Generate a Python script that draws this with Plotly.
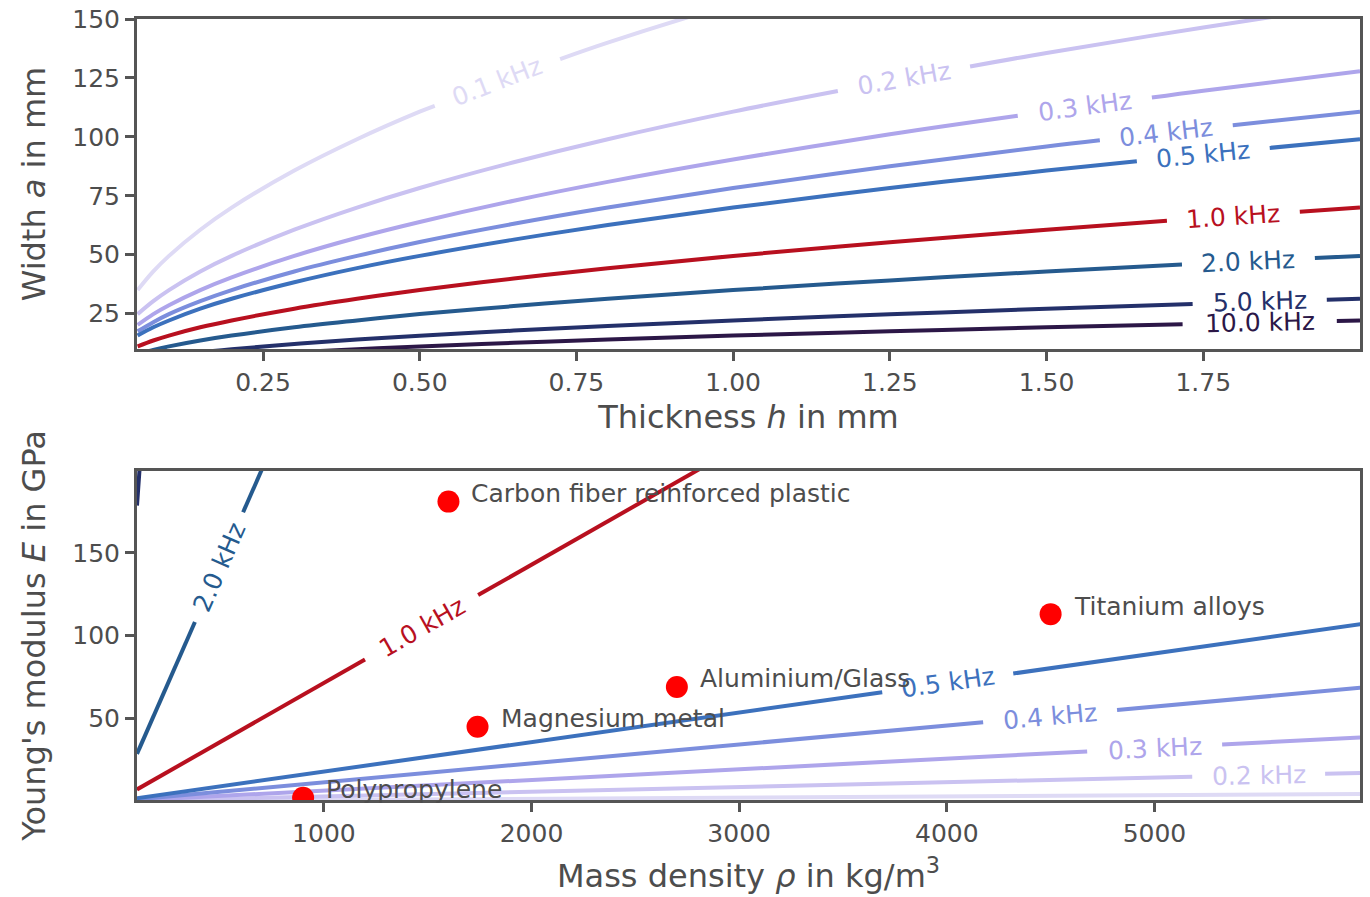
import numpy as np
import plotly.graph_objects as go

# ---- top panel: contour lines a(h) for each frequency
freqs_top = [0.1, 0.2, 0.3, 0.4, 0.5, 1.0, 2.0, 5.0, 10.0]
h_mm = [0.05, 0.075, 0.1, 0.15, 0.2, 0.3, 0.4, 0.5, 0.65, 0.8, 1.0, 1.25, 1.5, 1.75, 2.0]
a_01 = [35.0, 42.9, 49.5, 60.6, 70.0, 85.7, 99.0, 110.7, 126.2, 140.0, 156.5, 175.0, 191.7, 207.0, 221.3]
a_02 = [24.8, 30.3, 35.0, 42.9, 49.5, 60.6, 70.0, 78.3, 89.2, 99.0, 110.7, 123.8, 135.6, 146.4, 156.6]
a_03 = [20.2, 24.8, 28.6, 35.0, 40.4, 49.5, 57.2, 63.9, 72.9, 80.9, 90.4, 101.1, 110.7, 119.6, 127.8]
a_04 = [17.5, 21.4, 24.8, 30.3, 35.0, 42.9, 49.5, 55.4, 63.1, 70.0, 78.3, 87.5, 95.9, 103.6, 110.7]
a_05 = [15.7, 19.2, 22.1, 27.1, 31.3, 38.3, 44.3, 49.5, 56.4, 62.6, 70.0, 78.3, 85.7, 92.6, 99.0]
a_10 = [11.1, 13.6, 15.7, 19.2, 22.1, 27.1, 31.3, 35.0, 39.9, 44.3, 49.5, 55.3, 60.6, 65.5, 70.0]
a_20 = [7.8, 9.6, 11.1, 13.6, 15.7, 19.2, 22.1, 24.8, 28.2, 31.3, 35.0, 39.1, 42.9, 46.3, 49.5]
a_50 = [4.9, 6.1, 7.0, 8.6, 9.9, 12.1, 14.0, 15.6, 17.8, 19.8, 22.1, 24.7, 27.1, 29.2, 31.3]
a_100 = [3.5, 4.3, 4.9, 6.1, 7.0, 8.6, 9.9, 11.1, 12.6, 14.0, 15.7, 17.5, 19.2, 20.7, 22.1]
a_lines = [a_01, a_02, a_03, a_04, a_05, a_10, a_20, a_50, a_100]

# ---- bottom panel: contour lines E(rho) for each frequency
freqs_bot = [0.1, 0.2, 0.3, 0.4, 0.5, 1.0, 2.0, 5.0]
rho = [100, 1000, 2000, 3000, 4000, 5000, 6000]
E_01 = [0.07, 0.7, 1.4, 2.1, 2.9, 3.6, 4.3]
E_02 = [0.3, 2.9, 5.7, 8.6, 11.4, 14.3, 17.1]
E_03 = [0.6, 6.4, 12.9, 19.3, 25.7, 32.1, 38.6]
E_04 = [1.1, 11.4, 22.9, 34.3, 45.7, 57.1, 68.6]
E_05 = [1.8, 17.9, 35.7, 53.6, 71.4, 89.3, 107.1]
E_10 = [7.1, 71.4, 142.9, 214.3, 285.7, 357.1, 428.6]
E_20 = [28.6, 285.7, 571.4, 857.1, 1142.9, 1428.6, 1714.3]
E_50 = [178.6, 1786, 3571, 5357, 7143, 8929, 10714]
E_lines = [E_01, E_02, E_03, E_04, E_05, E_10, E_20, E_50]

# ---- materials
materials = ["Carbon fiber reinforced plastic", "Titanium alloys", "Aluminium/Glass",
             "Magnesium metal", "Polypropylene"]
mat_rho = [1600, 4500, 2700, 1740, 900]
mat_E = [181, 113, 69, 45, 2]

colors = {0.1: "#dedaf5", 0.2: "#cac2f1", 0.3: "#aea5eb", 0.4: "#7c8edd", 0.5: "#3c71bd",
          1.0: "#b8101f", 2.0: "#255a8e", 5.0: "#24306a", 10.0: "#2c1747"}

# label gaps (x extent in data units)
gap_top = {0.1: (0.524, 0.724), 0.2: (1.167, 1.378), 0.3: (1.454, 1.668), 0.4: (1.585, 1.797),
           0.5: (1.644, 1.856), 1.0: (1.692, 1.904), 2.0: (1.716, 1.928), 5.0: (1.733, 1.947),
           10.0: (1.717, 1.963)}
gap_bot = {2.0: (379, 611), 1.0: (1198, 1743), 0.5: (3689, 4320), 0.4: (4175, 4820),
           0.3: (4676, 5326), 0.2: (5182, 5822)}

xr_top, yr_top = [0.049, 2.0], [10, 150]
xr_bot, yr_bot = [100, 5990], [0.7, 199.5]
W, H = 1370, 897
ml, mr, mt, mb = 137, 10, 19, 97
pw = W - ml - mr
ph_top, ph_bot = 330, 329

TXT = "#4d4d4d"
FONT = "DejaVu Sans"


def split_line(xs, ys, gap):
    xs = np.array(xs, float)
    ys = np.array(ys, float)
    if gap is None:
        return list(xs), list(ys)
    g0, g1 = gap
    y0 = np.interp(g0, xs, ys)
    y1 = np.interp(g1, xs, ys)
    m0 = xs < g0
    m1 = xs > g1
    X = list(xs[m0]) + [g0, None, g1] + list(xs[m1])
    Y = list(ys[m0]) + [y0, None, y1] + list(ys[m1])
    return X, Y


def label_angle(xs, ys, xc, xr, yr, pw, ph):
    d = (xr[1] - xr[0]) * 0.01
    ya = np.interp(xc - d, xs, ys)
    yb = np.interp(xc + d, xs, ys)
    dx = 2 * d * pw / (xr[1] - xr[0])
    dy = (yb - ya) * ph / (yr[1] - yr[0])
    return -np.degrees(np.arctan2(dy, dx))


fig = go.Figure()
annotations = []

for f, a in zip(freqs_top, a_lines):
    X, Y = split_line(h_mm, a, gap_top.get(f))
    fig.add_trace(go.Scatter(x=X, y=Y, mode="lines", line=dict(color=colors[f], width=4, shape="spline"),
                             xaxis="x", yaxis="y", showlegend=False, hoverinfo="skip"))
    if f in gap_top:
        xc = sum(gap_top[f]) / 2
        yc = float(np.interp(xc, h_mm, a))
        ang = label_angle(h_mm, a, xc, xr_top, yr_top, pw, ph_top)
        annotations.append(dict(x=xc, y=yc, xref="x", yref="y", text=f"{f:.1f} kHz", showarrow=False,
                                textangle=ang, font=dict(size=25, color=colors[f], family=FONT),
                                xanchor="center", yanchor="middle"))

for f, E in zip(freqs_bot, E_lines):
    X, Y = split_line(rho, E, gap_bot.get(f))
    fig.add_trace(go.Scatter(x=X, y=Y, mode="lines", line=dict(color=colors[f], width=4),
                             xaxis="x2", yaxis="y2", showlegend=False, hoverinfo="skip"))
    if f in gap_bot:
        xc = sum(gap_bot[f]) / 2
        yc = float(np.interp(xc, rho, E))
        ang = label_angle(rho, E, xc, xr_bot, yr_bot, pw, ph_bot)
        annotations.append(dict(x=xc, y=yc, xref="x2", yref="y2", text=f"{f:.1f} kHz", showarrow=False,
                                textangle=ang, font=dict(size=25, color=colors[f], family=FONT),
                                xanchor="center", yanchor="middle"))

fig.add_trace(go.Scatter(x=mat_rho, y=mat_E, mode="markers", marker=dict(color="#ff0000", size=22),
                         xaxis="x2", yaxis="y2", showlegend=False))
for name, r, e in zip(materials, mat_rho, mat_E):
    annotations.append(dict(x=r, y=e, xref="x2", yref="y2", text=name, showarrow=False,
                            xanchor="left", yanchor="middle", xshift=21, yshift=8,
                            font=dict(size=25, color=TXT, family=FONT)))

axis_common = dict(showline=True, linecolor="#555555", linewidth=3, mirror=True, ticks="outside",
                   ticklen=9, tickwidth=3, tickcolor="#555555", showgrid=False, zeroline=False,
                   automargin=False, ticklabeloverflow="allow",
                   tickfont=dict(size=25, color=TXT, family=FONT),
                   title_font=dict(size=32, color=TXT, family=FONT))

top_dom = [1 - ph_top / (H - mt - mb), 1]
bot_dom = [0, ph_bot / (H - mt - mb)]

fig.update_layout(
    width=W, height=H,
    margin=dict(l=ml, r=mr, t=mt, b=mb),
    plot_bgcolor="white", paper_bgcolor="white",
    font=dict(family=FONT, color=TXT),
    xaxis=dict(axis_common, domain=[0, 1], anchor="y", range=xr_top,
               tickvals=[0.25, 0.5, 0.75, 1.0, 1.25, 1.5, 1.75], ticktext=["0.25", "0.50", "0.75", "1.00", "1.25", "1.50", "1.75"],
               title=dict(text="Thickness <i>h</i> in mm", standoff=10)),
    yaxis=dict(axis_common, domain=top_dom, anchor="x", range=yr_top,
               tickvals=[25, 50, 75, 100, 125, 150],
               title=dict(text="Width <i>a</i> in mm", standoff=18)),
    xaxis2=dict(axis_common, domain=[0, 1], anchor="y2", range=xr_bot,
                tickvals=[1000, 2000, 3000, 4000, 5000],
                title=dict(text="Mass density <i>ρ</i> in kg/m<sup>3</sup>", standoff=18)),
    yaxis2=dict(axis_common, domain=bot_dom, anchor="x2", range=yr_bot,
                tickvals=[50, 100, 150],
                title=dict(text="Young's modulus <i>E</i> in GPa", standoff=18)),
    annotations=annotations,
)

# drop the browser's default 8px body margin so the figure fills the window exactly
fig.write_html("out.html", config={"displayModeBar": False},
               post_script="document.body.style.margin='0';document.body.style.overflow='hidden';")
